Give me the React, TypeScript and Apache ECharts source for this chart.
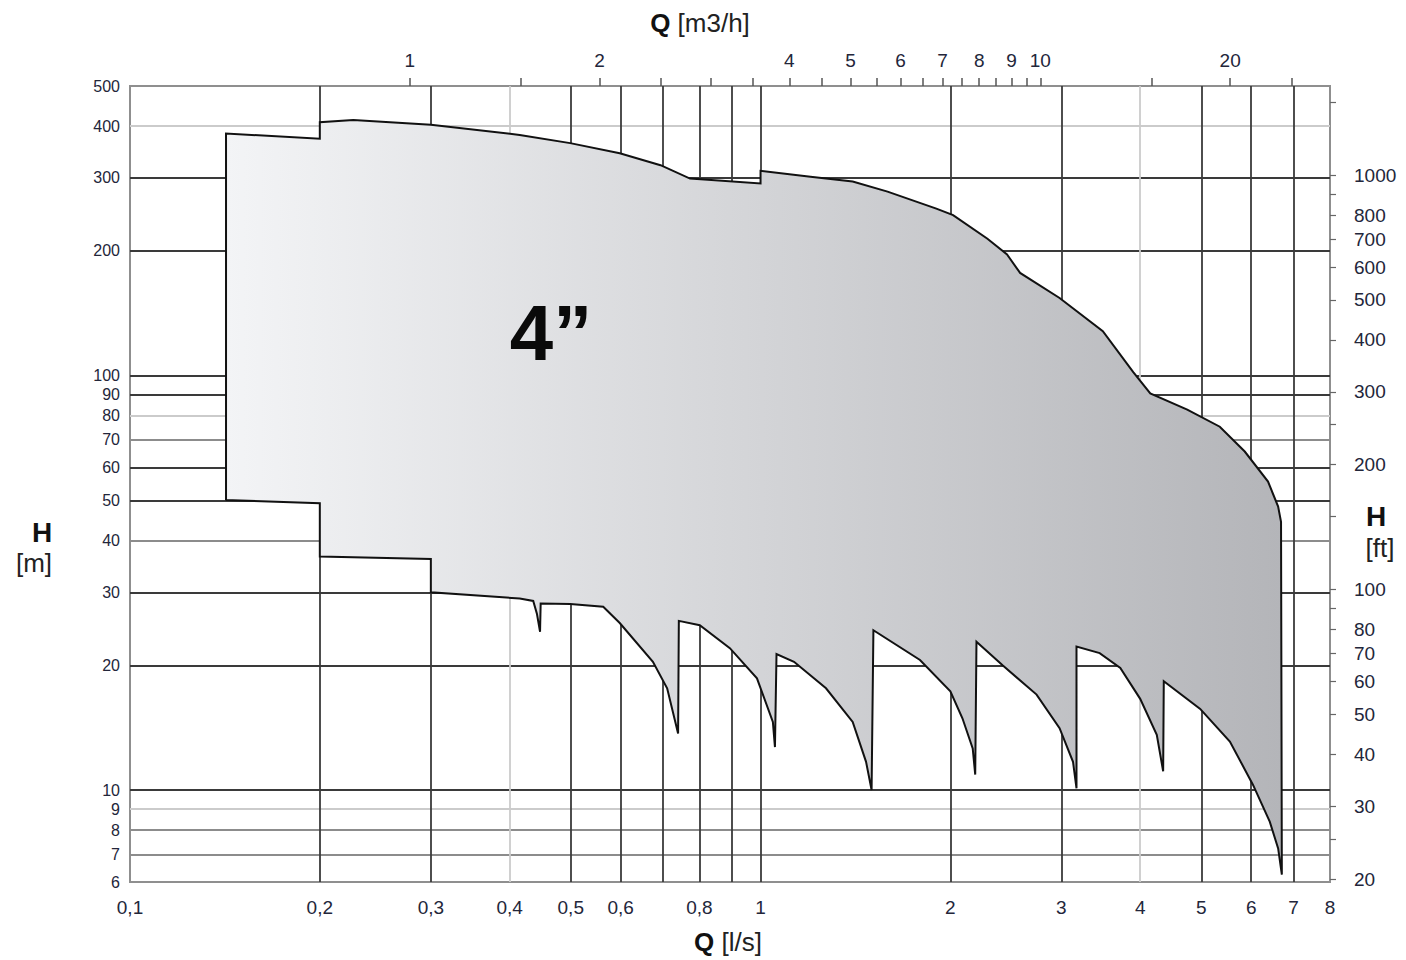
import React, { useEffect, useRef } from "react";
import * as echarts from "echarts";

// Axis ranges
const Q_MIN = 0.1; // l/s
const Q_MAX = 8;
const H_MIN = 6; // m
const H_MAX = 500;
const M3H_PER_LS = 3.6;
const FT_PER_M = 3.28084;

// Upper edge of the 4" field, left to right (Q [l/s], H [m])
const topQ = [0.142, 0.142, 0.2, 0.2, 0.226, 0.3, 0.415, 0.499, 0.598, 0.694, 0.773, 1.0, 1.0, 1.2, 1.4, 1.59, 1.9, 2.02, 2.29, 2.46, 2.58, 2.98, 3.49, 3.9, 4.15, 4.75, 5.35, 5.86, 6.38, 6.62, 6.69, 6.71];
const topH = [50, 384, 373, 409, 414, 403, 381, 364, 344, 322, 299, 291, 312, 302, 294, 278, 253, 244, 214, 196, 177, 154, 128, 102, 90.6, 82.8, 75.3, 65.6, 55.5, 48.3, 44.4, 6.25];

// Lower edge of the 4" field, right to left (Q [l/s], H [m])
const bottomQ = [6.62, 6.42, 6.04, 5.55, 4.98, 4.36, 4.35, 4.25, 4.0, 3.72, 3.45, 3.17, 3.17, 3.13, 2.98, 2.74, 2.42, 2.2, 2.19, 2.17, 2.09, 2.0, 1.79, 1.51, 1.5, 1.47, 1.4, 1.27, 1.13, 1.06, 1.054, 1.046, 0.987, 0.894, 0.801, 0.742, 0.74, 0.711, 0.675, 0.598, 0.563, 0.499, 0.448, 0.447, 0.442, 0.436, 0.415, 0.3, 0.3, 0.2, 0.2, 0.142];
const bottomH = [7.23, 8.39, 10.29, 13.1, 15.7, 18.3, 11.1, 13.6, 16.6, 19.7, 21.4, 22.2, 10.1, 11.7, 14.1, 17.0, 20.0, 22.8, 10.9, 12.6, 14.9, 17.3, 20.6, 24.3, 10.0, 11.7, 14.6, 17.6, 20.4, 21.3, 12.7, 14.6, 18.6, 22.0, 25.0, 25.6, 13.7, 17.6, 20.4, 25.3, 27.7, 28.1, 28.2, 24.1, 26.6, 28.6, 29.0, 30.0, 36.1, 36.6, 49.2, 50.1];

// Grid lines and tick labels
const qGrid = [0.2, 0.3, 0.4, 0.5, 0.6, 0.7, 0.8, 0.9, 1, 2, 3, 4, 5, 6, 7];
const qLight = [0.4, 4];
const qLabels = [0.1, 0.2, 0.3, 0.4, 0.5, 0.6, 0.8, 1, 2, 3, 4, 5, 6, 7, 8];
const hGrid = [7, 8, 9, 10, 20, 30, 40, 50, 60, 70, 80, 90, 100, 200, 300, 400];
const hMedium = [7, 8, 40, 70];
const hLight = [9, 80, 400];
const hLabels = [6, 7, 8, 9, 10, 20, 30, 40, 50, 60, 70, 80, 90, 100, 200, 300, 400, 500];
const m3hTicks = [1, 1.5, 2, 2.5, 3, 3.5, 4, 4.5, 5, 5.5, 6, 6.5, 7, 7.5, 8, 8.5, 9, 9.5, 10, 15, 20, 25];
const m3hLabels = [1, 2, 4, 5, 6, 7, 8, 9, 10, 20];
const ftTicks = [20, 25, 30, 40, 50, 60, 70, 80, 90, 100, 150, 200, 250, 300, 400, 500, 600, 700, 800, 900, 1000, 1500];
const ftLabels = [20, 30, 40, 50, 60, 70, 80, 100, 200, 300, 400, 500, 600, 700, 800, 1000];

const FONT = "'Liberation Sans', Arial, sans-serif";
const LABEL_COLOR = "#23263a";
const DARK = "#3a3a3a";
const MEDIUM = "#8c8c8c";
const LIGHT = "#cbcbcb";

const lg = (v: number) => Math.log10(v);
const pw = (v: number) => Math.pow(10, v);

export default function App() {
  const ref = useRef<HTMLDivElement>(null);

  useEffect(() => {
    if (!ref.current) return;
    const chart = echarts.init(ref.current, undefined, { renderer: "svg" });

    const outline: number[][] = [];
    topQ.forEach((q, i) => outline.push([q, topH[i]]));
    bottomQ.forEach((q, i) => outline.push([q, bottomH[i]]));

    const qColors = qGrid.map((q) => (qLight.includes(q) ? LIGHT : DARK));
    const hColors = hGrid.map((h) =>
      hLight.includes(h) ? LIGHT : hMedium.includes(h) ? MEDIUM : DARK
    );

    const labelBase = { fontFamily: FONT, fontSize: 19, color: LABEL_COLOR };

    const option: any = {
      animation: false,
      backgroundColor: "#ffffff",
      grid: {
        left: 130,
        right: 76,
        top: 86,
        bottom: 78,
        show: true,
        borderColor: "#8f8f8f",
        borderWidth: 2,
        backgroundColor: "transparent",
        outerBoundsMode: "none",
      },
      xAxis: [
        { type: "log", logBase: 10, min: Q_MIN, max: Q_MAX, show: false, gridIndex: 0 },
        {
          type: "value",
          gridIndex: 0,
          position: "bottom",
          min: lg(Q_MIN),
          max: lg(Q_MAX),
          axisLine: { show: false, onZero: false },
          axisTick: { show: false, customValues: qGrid.map(lg) },
          axisLabel: {
            ...labelBase,
            margin: 16,
            customValues: qLabels.map(lg),
            formatter: (v: number) => {
              const q = pw(v);
              return q < 0.99 ? q.toFixed(1).replace(".", ",") : String(Math.round(q));
            },
          },
          splitLine: { show: true, lineStyle: { color: qColors, width: 1.8 } },
        },
        {
          type: "value",
          gridIndex: 0,
          position: "top",
          min: lg(Q_MIN * M3H_PER_LS),
          max: lg(Q_MAX * M3H_PER_LS),
          axisLine: { show: false, onZero: false },
          axisTick: {
            show: true,
            inside: false,
            length: 8,
            customValues: m3hTicks.map(lg),
            lineStyle: { color: "#555", width: 1.5 },
          },
          axisLabel: {
            ...labelBase,
            margin: 16,
            customValues: m3hLabels.map(lg),
            formatter: (v: number) => String(Math.round(pw(v))),
          },
          splitLine: { show: false },
        },
      ],
      yAxis: [
        { type: "log", logBase: 10, min: H_MIN, max: H_MAX, show: false, gridIndex: 0 },
        {
          type: "value",
          gridIndex: 0,
          position: "left",
          min: lg(H_MIN),
          max: lg(H_MAX),
          axisLine: { show: false, onZero: false },
          axisTick: { show: false, customValues: hGrid.map(lg) },
          axisLabel: {
            ...labelBase,
            fontSize: 16,
            lineHeight: 16,
            margin: 10,
            customValues: hLabels.map(lg),
            formatter: (v: number) => String(Math.round(pw(v))),
          },
          splitLine: { show: true, lineStyle: { color: hColors, width: 1.8 } },
        },
        {
          type: "value",
          gridIndex: 0,
          position: "right",
          min: lg(H_MIN * FT_PER_M),
          max: lg(H_MAX * FT_PER_M),
          axisLine: { show: false, onZero: false },
          axisTick: {
            show: true,
            inside: false,
            length: 6,
            customValues: ftTicks.map(lg),
            lineStyle: { color: "#666", width: 1.2 },
          },
          axisLabel: {
            ...labelBase,
            margin: 24,
            align: "left",
            customValues: ftLabels.map(lg),
            formatter: (v: number) => String(Math.round(pw(v))),
          },
          splitLine: { show: false },
        },
      ],
      series: [
        {
          type: "custom",
          coordinateSystem: "cartesian2d",
          xAxisIndex: 0,
          yAxisIndex: 0,
          z: 10,
          silent: true,
          data: outline,
          renderItem: (params: any, api: any) => {
            if (params.dataIndex !== 0) return null;
            const pts = outline.map((p) => api.coord(p));
            return {
              type: "polygon",
              shape: { points: pts },
              style: {
                fill: new echarts.graphic.LinearGradient(0, 0, 1, 0, [
                  { offset: 0, color: "#f3f4f6" },
                  { offset: 1, color: "#b4b5b9" },
                ]),
                stroke: "#111111",
                lineWidth: 2,
              },
            };
          },
        },
      ],
      graphic: [
        {
          type: "text",
          x: 700,
          y: 23,
          z: 100,
          style: {
            text: "{b|Q} [m3/h]",
            rich: { b: { fontWeight: "bold", fontSize: 26, fontFamily: FONT, fill: "#111" } },
            fontFamily: FONT,
            fontSize: 26,
            fill: "#222",
            align: "center",
            verticalAlign: "middle",
          },
        },
        {
          type: "text",
          x: 728,
          y: 942,
          z: 100,
          style: {
            text: "{b|Q} [l/s]",
            rich: { b: { fontWeight: "bold", fontSize: 26, fontFamily: FONT, fill: "#111" } },
            fontFamily: FONT,
            fontSize: 26,
            fill: "#222",
            align: "center",
            verticalAlign: "middle",
          },
        },
        {
          type: "text",
          x: 42,
          y: 532,
          z: 100,
          style: { text: "H", fontFamily: FONT, fontWeight: "bold", fontSize: 28, fill: "#111", align: "center", verticalAlign: "middle" },
        },
        {
          type: "text",
          x: 34,
          y: 563,
          z: 100,
          style: { text: "[m]", fontFamily: FONT, fontSize: 26, fill: "#222", align: "center", verticalAlign: "middle" },
        },
        {
          type: "text",
          x: 1376,
          y: 516,
          z: 100,
          style: { text: "H", fontFamily: FONT, fontWeight: "bold", fontSize: 28, fill: "#111", align: "center", verticalAlign: "middle" },
        },
        {
          type: "text",
          x: 1380,
          y: 548,
          z: 100,
          style: { text: "[ft]", fontFamily: FONT, fontSize: 26, fill: "#222", align: "center", verticalAlign: "middle" },
        },
        {
          type: "text",
          x: 551,
          y: 333,
          z: 100,
          style: { text: "4\u201D", fontFamily: FONT, fontWeight: "bold", fontSize: 78, fill: "#0a0a0a", align: "center", verticalAlign: "middle" },
        },
      ],
    };

    chart.setOption(option);
    return () => chart.dispose();
  }, []);

  return (
    <div
      ref={ref}
      style={{ position: "fixed", left: 0, top: 0, width: 1406, height: 960, background: "#fff" }}
    />
  );
}
